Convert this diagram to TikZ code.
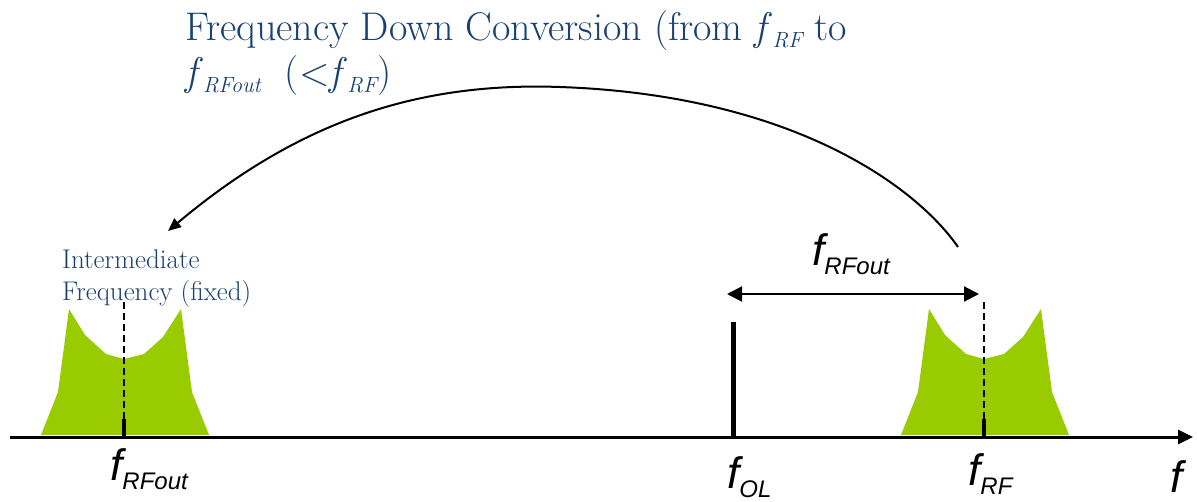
\documentclass[tikz,border=0pt]{standalone}
\usepackage{fontspec}
\newfontfamily\arialfont{Liberation Sans}
\usetikzlibrary{arrows.meta}
\definecolor{TitleBlue}{HTML}{1A4170}
\definecolor{BandGreen}{HTML}{99CC00}
% sans italic frequency label with lowered subscript
\newcommand{\flab}[1]{{\arialfont\itshape\fontsize{44}{44}\selectfont f}\raisebox{-9pt}{\arialfont\itshape\fontsize{24}{24}\selectfont #1}}
% serif italic f with subscript, for the caption
\newcommand{\tfsub}[1]{\textit{f}\raisebox{-7pt}{\fontsize{22}{22}\selectfont\itshape #1}}

\begin{document}
\begin{tikzpicture}[
  x=1pt, y=-1pt,
  caption/.style={inner sep=0pt, anchor=north west, align=left, text=TitleBlue},
  freq/.style={inner sep=0pt, anchor=base west},
  axis/.style={line width=3pt, -{Triangle[length=15pt,width=14pt]}},
  span/.style={line width=2pt, {Triangle[length=15pt,width=15pt]}-{Triangle[length=15pt,width=15pt]}},
  arcline/.style={line width=2pt, -{Triangle[length=13pt,width=11pt]}},
  guide/.style={line width=1.3pt, dash pattern=on 7pt off 4pt},
  tickmark/.style={line width=4pt},
  band/.style={fill=BandGreen, draw=none}
]
\useasboundingbox (0,0) rectangle (1197,501);
\clip (0,0) rectangle (1197,501);

% signal bands (IF and RF)
\foreach \cx in {124,984} {
  \fill[band, shift={(\cx,0)}] (-83,435) -- (-66,392) -- (-55,309) -- (-39,335) -- (-18,354)
    -- (0,359) -- (20,354) -- (39,337) -- (57,309) -- (68,392) -- (85,435) -- cycle;
  \draw[guide] (\cx,302) -- (\cx,420);
  \draw[tickmark] (\cx,437) -- (\cx,419);
}

% local oscillator line
\coordinate (ol) at (733,437);
\coordinate (oltop) at (733,322);
\draw[line width=5pt] (ol) -- (oltop);

% frequency axis
\coordinate (ax0) at (10,437);
\coordinate (ax1) at (1193,437);
\draw[axis] (ax0) -- (ax1);

% spacing arrow
\coordinate (dl) at (727,294);
\coordinate (dr) at (979,294);
\draw[span] (dl) -- (dr);

% down conversion arc
\coordinate (cs) at (958,247);
\coordinate (cp) at (560,87);
\coordinate (ce) at (168,231);
\draw[arcline] (cs) .. controls (915,185) and (790,95) .. (cp)
  .. controls (420,82) and (300,120) .. (ce);

% texts
\node (title) [caption, font=\fontsize{40}{45}\selectfont] at (185,10)
  {Frequency Down Conversion (from \tfsub{RF} to\\\tfsub{RFout}\ \ (<\tfsub{RF})};
\node (iflbl) [caption, font=\fontsize{27}{32}\selectfont] at (62,250)
  {Intermediate\\Frequency (fixed)};
\node (fif) [freq] at (110,480) {\flab{RFout}};
\node (fol) [freq] at (727,488) {\flab{OL}};
\node (frf) [freq] at (968,485) {\flab{RF}};
\node (fdiff) [freq] at (812,265) {\flab{RFout}};
\node (faxis) [freq] at (1170,492) {{\arialfont\itshape\fontsize{44}{44}\selectfont f}};
\end{tikzpicture}
\end{document}
